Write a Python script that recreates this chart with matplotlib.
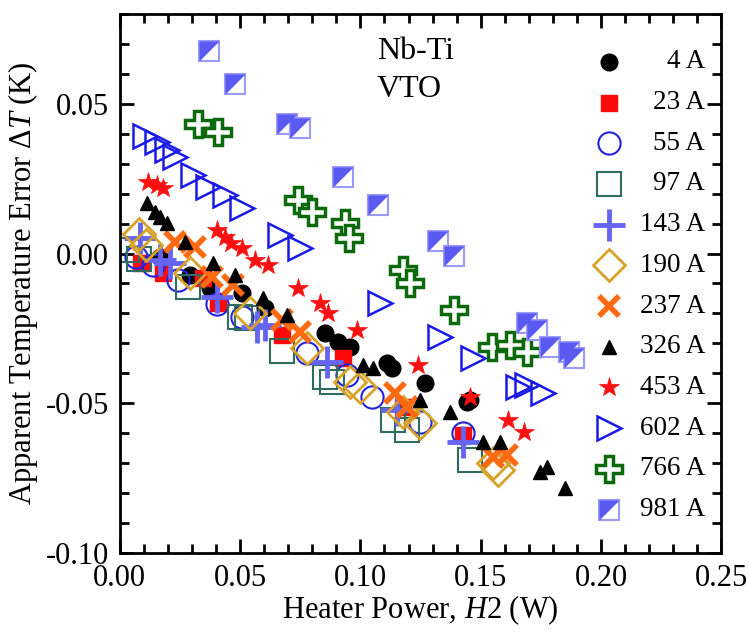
import numpy as np
import matplotlib
matplotlib.use("Agg")
import matplotlib.pyplot as plt
from matplotlib.path import Path
from matplotlib.ticker import MultipleLocator, FormatStrFormatter

plt.rcParams['font.family'] = ['Liberation Serif', 'DejaVu Serif']
plt.rcParams['mathtext.fontset'] = 'custom'
plt.rcParams['mathtext.rm'] = 'Liberation Serif'
plt.rcParams['mathtext.it'] = 'Liberation Serif:italic'

# ---- data (heater power in W, apparent temperature error in K) ----
labels = ['4 A', '23 A', '55 A', '97 A', '143 A', '190 A', '237 A',
          '326 A', '453 A', '602 A', '766 A', '981 A']

x_4 = [0.0166, 0.0291, 0.0374, 0.0506, 0.0603, 0.0853, 0.0908, 0.0957, 0.111, 0.113, 0.1269, 0.1442, 0.1456]
y_4 = [-0.0011, -0.0072, -0.0116, -0.0133, -0.0183, -0.0266, -0.0294, -0.0311, -0.0367, -0.0383, -0.0433, -0.0495, -0.0489]

x_23 = [0.009, 0.018, 0.0347, 0.0409, 0.0673, 0.0929, 0.1179, 0.1428]
y_23 = [-0.0033, -0.0066, -0.0083, -0.0166, -0.0272, -0.035, -0.0512, -0.0606]

x_55 = [0.0069, 0.0139, 0.0243, 0.0402, 0.0506, 0.0777, 0.0943, 0.1047, 0.1248, 0.1428]
y_55 = [-0.0011, -0.0038, -0.0088, -0.0167, -0.0211, -0.0333, -0.0406, -0.0478, -0.0562, -0.06]

x_97 = [0.003, 0.008, 0.0284, 0.0499, 0.0527, 0.0672, 0.0853, 0.0881, 0.1137, 0.1193, 0.1456]
y_97 = [0.0012, -0.002, -0.0111, -0.0211, -0.0216, -0.0327, -0.0411, -0.0428, -0.0556, -0.0589, -0.0689]

x_143 = [0.0083, 0.0166, 0.0208, 0.0402, 0.0569, 0.0603, 0.086, 0.1151, 0.1428]
y_143 = [0.0051, -0.0022, -0.0033, -0.0144, -0.0244, -0.0239, -0.0361, -0.0523, -0.0628]

x_190 = [0.008, 0.011, 0.0291, 0.0541, 0.0777, 0.0957, 0.0998, 0.1179, 0.1248, 0.1553, 0.157]
y_190 = [0.0065, 0.003, -0.0066, -0.0197, -0.0317, -0.0428, -0.0445, -0.0528, -0.0567, -0.07, -0.0723]

x_237 = [0.0229, 0.0312, 0.0381, 0.0471, 0.0672, 0.0749, 0.1144, 0.1193, 0.1553, 0.1609]
y_237 = [0.0039, 0.0023, -0.0077, -0.0105, -0.0222, -0.0261, -0.0467, -0.0512, -0.0678, -0.0673]

x_326 = [0.0111, 0.0146, 0.0166, 0.0194, 0.027, 0.0388, 0.0478, 0.0596, 0.0693, 0.1012, 0.1054,
         0.1248, 0.1373, 0.1511, 0.1581, 0.1747, 0.1775, 0.1851]
y_326 = [0.0168, 0.014, 0.0123, 0.0101, 0.0039, -0.0033, -0.0072, -0.015, -0.0205, -0.0372, -0.0383,
         -0.0489, -0.0528, -0.0628, -0.0628, -0.0729, -0.0712, -0.0784]

x_453 = [0.0118, 0.0153, 0.018, 0.0402, 0.0437, 0.0464, 0.0506, 0.0562, 0.0617, 0.0742, 0.0832,
         0.0867, 0.0985, 0.1241, 0.1456, 0.1615, 0.1678]
y_453 = [0.024, 0.0229, 0.0218, 0.0078, 0.0056, 0.0034, 0.0017, -0.0022, -0.0038, -0.0116, -0.0166,
         -0.02, -0.0255, -0.0372, -0.0478, -0.0556, -0.0595]

x_602 = [0.0104, 0.0153, 0.0194, 0.0229, 0.0305, 0.0367, 0.0437, 0.0506, 0.0666, 0.0749,
         0.1082, 0.1331, 0.147, 0.1657, 0.1692, 0.1761]
y_602 = [0.0392, 0.0373, 0.0346, 0.0321, 0.0262, 0.0223, 0.0195, 0.0151, 0.0062, 0.0017,
         -0.0165, -0.0278, -0.035, -0.0445, -0.0439, -0.0467]

x_766 = [0.0326, 0.0409, 0.0742, 0.0797, 0.0936, 0.0954, 0.1177, 0.1206, 0.1387, 0.1546, 0.1622, 0.1692]
y_766 = [0.0432, 0.0407, 0.0179, 0.014, 0.0101, 0.0051, -0.0055, -0.0099, -0.0189, -0.0311, -0.0306, -0.0328]

x_981 = [0.0372, 0.0478, 0.0693, 0.0749, 0.0926, 0.1075, 0.1324, 0.139, 0.1692, 0.1733, 0.1789, 0.1865, 0.1886]
y_981 = [0.0677, 0.0566, 0.0432, 0.0418, 0.0254, 0.0162, 0.0043, -0.0008, -0.0233, -0.0255, -0.0311, -0.0328, -0.035]

xs = [x_4, x_23, x_55, x_97, x_143, x_190, x_237, x_326, x_453, x_602, x_766, x_981]
ys = [y_4, y_23, y_55, y_97, y_143, y_190, y_237, y_326, y_453, y_602, y_766, y_981]

# marker styles per series
half_tri = Path([(-1, -1), (-1, 1), (1, 1), (-1, -1)], [1, 2, 2, 79])
styles = [
    dict(marker='o', ms=12, mfc='black', mec='black', mew=1),
    dict(marker='s', ms=11, mfc='#ff0a0a', mec='#ff0a0a', mew=1),
    dict(marker='o', ms=16, mfc='none', mec='#2323dd', mew=1.5),
    dict(marker='s', ms=17, mfc='none', mec='#2f6b5e', mew=1.5),
    dict(marker='+', ms=23, mfc='none', mec='#6565f2', mew=3.5),
    dict(marker='D', ms=16.5, mfc='none', mec='#d6a228', mew=2),
    dict(marker='x', ms=15, mfc='none', mec='#ff6a12', mew=4),
    dict(marker='^', ms=10.5, mfc='black', mec='black', mew=1),
    dict(marker='*', ms=15, mfc='#ff1010', mec='#ff1010', mew=0.5),
    dict(marker='>', ms=17, mfc='none', mec='#1a1ae6', mew=1.8),
    dict(marker='P', ms=19, mfc='white', mec='#0c6a0c', mew=2.5),
    dict(marker='s', ms=14, mfc='white', mec='#9a9af8', mew=1.5),
]
half_fill = dict(marker=half_tri, ms=14, mfc='#5a5af2', mec='none')

fig = plt.figure(figsize=(7.49, 6.32), dpi=100)
ax = fig.add_axes([0.160, 0.125, 0.803, 0.853])

for i, (x, y) in enumerate(zip(xs, ys)):
    ax.plot(x, y, ls='none', **styles[i])
    if labels[i] == '981 A':
        ax.plot(x, y, ls='none', **half_fill)

# hand-made legend on the right, marker then right-aligned label
leg_x_marker = 0.813
leg_x_text = 0.973
leg_y0 = 0.911
leg_dy = 0.0755
for i, lab in enumerate(labels):
    yy = leg_y0 - i * leg_dy
    ax.plot([leg_x_marker], [yy], ls='none', transform=ax.transAxes, clip_on=False, **styles[i])
    if lab == '981 A':
        ax.plot([leg_x_marker], [yy], ls='none', transform=ax.transAxes, clip_on=False, **half_fill)
    ax.text(leg_x_text, yy, lab, transform=ax.transAxes, ha='right', va='center', fontsize=19.5)

ax.text(0.427, 0.93, 'Nb-Ti', transform=ax.transAxes, ha='left', va='center', fontsize=23)
ax.text(0.427, 0.859, 'VTO', transform=ax.transAxes, ha='left', va='center', fontsize=23)

ax.set_xlim(0, 0.25)
ax.set_ylim(-0.10, 0.08)
ax.xaxis.set_major_locator(MultipleLocator(0.05))
ax.xaxis.set_minor_locator(MultipleLocator(0.01))
ax.yaxis.set_major_locator(MultipleLocator(0.05))
ax.yaxis.set_minor_locator(MultipleLocator(0.01))
ax.xaxis.set_major_formatter(FormatStrFormatter('%.2f'))
ax.yaxis.set_major_formatter(FormatStrFormatter('%.2f'))

ax.tick_params(which='both', direction='in', top=True, right=True, width=2, labelsize=22)
ax.tick_params(which='major', length=10, pad=8)
ax.tick_params(which='minor', length=6.5)
for sp in ax.spines.values():
    sp.set_linewidth(2)

ax.set_xlabel(r'Heater Power, $\mathit{H2}$ (W)', fontsize=22, labelpad=0)
ax.set_ylabel(r'Apparent Temperature Error $\Delta\mathit{T}$ (K)', fontsize=22, labelpad=4)

fig.savefig('out.png', dpi=100)
